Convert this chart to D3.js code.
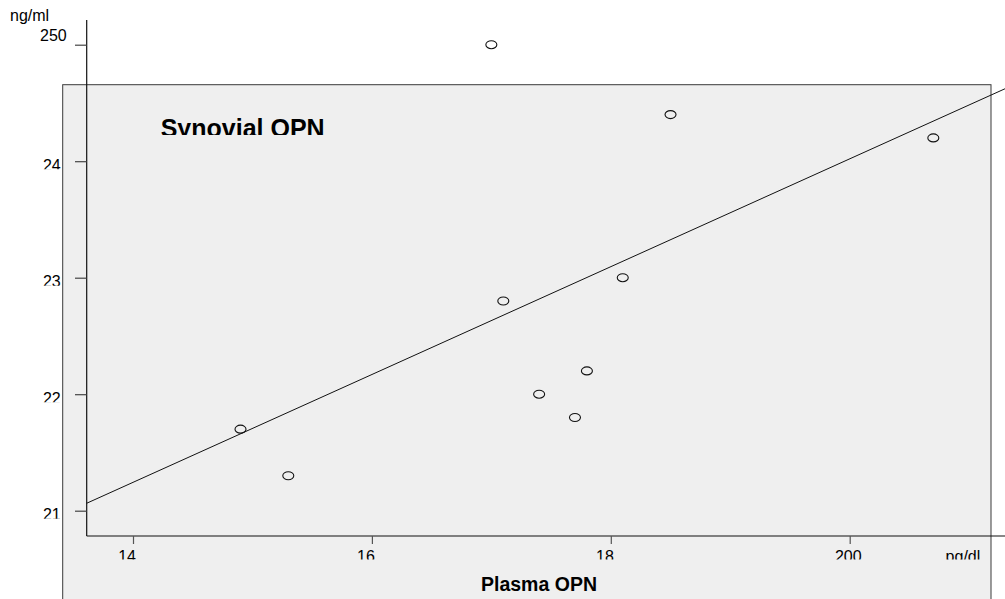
<!DOCTYPE html>
<html>
<head>
<meta charset="utf-8">
<script src="https://cdn.jsdelivr.net/npm/d3@7"></script>
<style>
  html, body { margin: 0; padding: 0; background: #ffffff; }
  svg { display: block; }
  text { font-family: "Liberation Sans", Arial, sans-serif; fill: #000; }
</style>
</head>
<body>
<div id="chart"></div>
<script>
// ---- data ----
const plasmaOPN   = [149, 153, 170, 171, 174, 177, 178, 181, 185, 207];  // pg/dl
const synovialOPN = [217, 213, 250, 228, 220, 218, 222, 230, 244, 242];  // ng/ml
const xTickValues = [140, 160, 180, 200];
const xTickLabels = ["14", "16", "18", "200"];
const yTickValues = [210, 220, 230, 240, 250];
const yTickLabels = ["21", "22", "23", "24", "250"];
const xTitle = "Plasma OPN";
const yTitle = "Synovial OPN";
const xUnit = "pg/dl";
const yUnit = "ng/ml";

// ---- layout ----
const W = 1005, H = 599;
const axisX = 86.7, axisY = 536;

const svg = d3.select("#chart").append("svg")
  .attr("width", W).attr("height", H);

const x = d3.scaleLinear().domain([140, 200]).range([133, 849.7]);
const y = d3.scaleLinear().domain([210, 250]).range([510.7, 44.7]);

const defs = svg.append("defs");

// grey panel
svg.append("rect")
  .attr("x", 62.7).attr("y", 84.7)
  .attr("width", 991 - 62.7).attr("height", H - 84.7 + 10)
  .attr("fill", "#efefef")
  .attr("stroke", "#3a3a3a").attr("stroke-width", 1);

// panel title
defs.append("clipPath").attr("id", "clipTitle")
  .append("rect").attr("x", 0).attr("y", 100).attr("width", W).attr("height", 35);
svg.append("text")
  .attr("x", 160.7).attr("y", 137.2)
  .attr("clip-path", "url(#clipTitle)")
  .style("font-size", "25px").style("font-weight", "bold")
  .text(yTitle);

// axis lines
svg.append("line")
  .attr("x1", axisX).attr("x2", axisX).attr("y1", 20).attr("y2", axisY)
  .attr("stroke", "#111").attr("stroke-width", 1.2);
svg.append("line")
  .attr("x1", axisX).attr("x2", W).attr("y1", axisY).attr("y2", axisY)
  .attr("stroke", "#111").attr("stroke-width", 1.2);

// y ticks via d3 axis
const yAxis = svg.append("g")
  .attr("transform", `translate(${axisX},0)`)
  .call(d3.axisLeft(y).tickValues(yTickValues).tickSize(11.7).tickFormat(""));
yAxis.select(".domain").remove();
yAxis.selectAll(".tick line").attr("stroke", "#444").attr("stroke-width", 1.2);

// x ticks via d3 axis
const xAxis = svg.append("g")
  .attr("transform", `translate(0,${axisY})`)
  .call(d3.axisBottom(x).tickValues(xTickValues).tickSize(8).tickFormat(""));
xAxis.select(".domain").remove();
xAxis.selectAll(".tick line").attr("stroke", "#555").attr("stroke-width", 1.2);

// y tick labels (the lower ones are cut at the bottom, as in the reference)
yTickValues.forEach((v, i) => {
  const ty = y(v);
  const isTop = i === yTickValues.length - 1;
  if (isTop) {
    svg.append("text")
      .attr("x", 66.7).attr("y", ty - 3.7)
      .attr("text-anchor", "end")
      .style("font-size", "16px")
      .text(yTickLabels[i]);
  } else {
    const id = "clipY" + i;
    defs.append("clipPath").attr("id", id)
      .append("rect").attr("x", 0).attr("y", ty - 10).attr("width", 80).attr("height", 18);
    svg.append("text")
      .attr("x", 60.7).attr("y", ty + 9.5)
      .attr("text-anchor", "end")
      .attr("clip-path", `url(#${id})`)
      .style("font-size", "16px")
      .text(yTickLabels[i]);
  }
});

// x tick labels (cut at the bottom)
defs.append("clipPath").attr("id", "clipX")
  .append("rect").attr("x", 0).attr("y", 540).attr("width", W).attr("height", 19.5);
const xLab = svg.append("g").attr("clip-path", "url(#clipX)");
xTickValues.forEach((v, i) => {
  xLab.append("text")
    .attr("x", x(v) - 14.8).attr("y", 561.5)
    .style("font-size", "16px")
    .text(xTickLabels[i]);
});
xLab.append("text")
  .attr("x", 945.6).attr("y", 561.5)
  .style("font-size", "16px")
  .text(xUnit);

// y unit
svg.append("text")
  .attr("x", 10).attr("y", 21)
  .style("font-size", "16px")
  .text(yUnit);

// x title
svg.append("text")
  .attr("x", 481).attr("y", 590.5)
  .style("font-size", "19.5px").style("font-weight", "bold")
  .text(xTitle);

// least-squares fit line
const n = plasmaOPN.length;
const mx = d3.mean(plasmaOPN), my = d3.mean(synovialOPN);
let sxy = 0, sxx = 0;
for (let i = 0; i < n; i++) {
  sxy += (plasmaOPN[i] - mx) * (synovialOPN[i] - my);
  sxx += (plasmaOPN[i] - mx) ** 2;
}
const slope = sxy / sxx, intercept = my - slope * mx;
const x0 = x.invert(axisX), x1 = x.invert(W + 2);
svg.append("line")
  .attr("x1", x(x0)).attr("y1", y(intercept + slope * x0))
  .attr("x2", x(x1)).attr("y2", y(intercept + slope * x1))
  .attr("stroke", "#111").attr("stroke-width", 1);

// points
svg.append("g").selectAll("ellipse")
  .data(plasmaOPN.map((d, i) => [d, synovialOPN[i]]))
  .join("ellipse")
  .attr("cx", d => x(d[0])).attr("cy", d => y(d[1]))
  .attr("rx", 5.5).attr("ry", 4)
  .attr("fill", "none").attr("stroke", "#111").attr("stroke-width", 1.1);
</script>
</body>
</html>
